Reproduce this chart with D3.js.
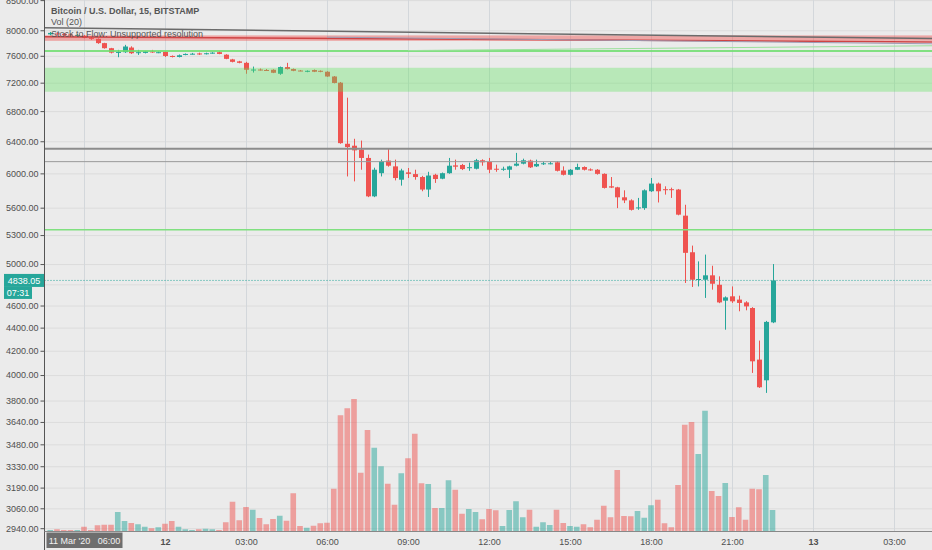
<!DOCTYPE html>
<html>
<head>
<meta charset="utf-8">
<script src="https://cdn.jsdelivr.net/npm/d3@7"></script>
<style>
    body { margin: 0; background: #ebebeb; }
    svg { display: block; font-family: "Liberation Sans", Arial, sans-serif; }
</style>
</head>
<body>
<div id="chart"></div>
<script>

// BTC/USD 15 min candles, 11 Mar 2020 19:45 -> 12 Mar 2020 22:30
const opens = [7934,7950,7942,7934,7918,7910,7879,7863,7796,7717,7651,7655,7727,7644,7644,7667,7651,7659,7597,7582,
    7613,7628,7636,7628,7639,7655,7617,7545,7515,7493,7383,7393,7386,7389,7330,7429,7400,7378,7360,7385,
    7374,7360,7290,7200,6368,6343,6293,6189,5729,6002,6156,6085,5924,6012,5991,5956,5808,5983,5936,6002,
    6097,6102,6065,6056,6160,6140,6056,6048,6044,6093,6118,6156,6085,6118,6120,6135,6035,5983,6044,6077,
    6048,6044,5994,5846,5834,5718,5683,5598,5595,5788,5878,5812,5812,5808,5511,5120,4845,4845,4888,4796,
    4645,4686,4655,4629,4577,4126,3958,4447];
const highs = [7973,7965,7958,7950,7940,7926,7895,7871,7801,7722,7691,7769,7746,7691,7675,7691,7667,7667,7605,7620,
    7636,7644,7648,7648,7655,7667,7624,7553,7523,7508,7437,7408,7400,7397,7437,7493,7408,7386,7380,7393,
    7380,7368,7297,7210,6986,6432,6409,6231,6069,6168,6302,6168,6056,6065,6044,5970,6019,5995,6010,6189,
    6168,6115,6131,6177,6172,6189,6106,6081,6093,6252,6180,6168,6168,6143,6140,6150,6085,6052,6118,6085,
    6060,6052,6000,5956,5840,5799,5695,5711,5810,5944,5890,5846,5830,5815,5633,5189,5027,5096,4983,4878,
    4685,4780,4692,4640,4585,4287,4460,5000];
const lows = [7918,7918,7910,7910,7910,7871,7848,7785,7710,7636,7578,7644,7628,7613,7636,7644,7640,7582,7575,7575,
    7608,7620,7613,7620,7632,7624,7548,7500,7486,7330,7348,7378,7375,7340,7315,7393,7368,7368,7353,7355,
    7353,7285,7190,6368,5963,5904,6044,5720,5720,5963,6081,5916,5854,5944,5924,5788,5722,5886,5930,5995,
    6044,6040,6031,6048,6093,6002,6019,6031,5944,6085,6110,6065,6077,6102,6110,6023,5975,5975,6040,6035,
    6031,5985,5820,5825,5595,5652,5568,5576,5576,5780,5659,5749,5711,5515,4813,4775,4780,4671,4749,4622,
    4382,4624,4547,4556,4017,3898,3859,4440];
const closes = [7958,7934,7926,7926,7926,7879,7863,7796,7717,7648,7659,7743,7639,7655,7667,7651,7655,7597,7582,7608,
    7628,7632,7620,7639,7648,7628,7553,7508,7493,7389,7393,7389,7383,7345,7429,7400,7374,7375,7374,7360,
    7360,7290,7196,6376,6326,6284,6189,5729,6044,6147,6093,5944,6035,5994,5956,5808,5974,5932,6002,6093,
    6081,6052,6075,6160,6135,6044,6048,6056,6085,6118,6160,6073,6115,6123,6123,6031,5983,6044,6077,6044,
    6040,5994,5827,5831,5718,5683,5576,5603,5799,5878,5788,5805,5805,5522,5114,4845,4852,4888,4806,4629,
    4676,4639,4624,4592,4112,3903,4451,4838.05];
const volumes = [20,35,20,20,20,85,20,115,125,125,380,200,160,135,85,55,75,145,200,85,
    35,20,35,45,35,20,175,585,215,480,425,260,135,240,305,205,755,100,65,105,
    155,165,845,2315,2455,2640,1165,2020,1665,1295,945,525,1155,1455,1945,955,940,460,460,1015,
    825,345,440,380,235,440,415,100,420,595,275,425,85,175,120,425,160,100,85,135,
    75,225,505,275,1220,300,295,400,265,515,625,155,75,920,2125,2180,1540,2405,800,700,
    960,280,475,225,845,835,1120,420];

const priceTicks = [8500,8000,7600,7200,6800,6400,6000,5600,5300,5000,4800,4600,4400,4200,4000,3800,3640,3480,3330,3190,3060,2940];
const timeTicks = ["2020-03-11T21:00","2020-03-12T00:00","2020-03-12T03:00","2020-03-12T06:00","2020-03-12T09:00",
    "2020-03-12T12:00","2020-03-12T15:00","2020-03-12T18:00","2020-03-12T21:00","2020-03-13T00:00","2020-03-13T03:00"];

// drawn levels and zones (prices)
const hLevels = [
    {price: 6305, color: "#8c8c8c", width: 2},
    {price: 6143, color: "#9a9a9a", width: 1},
    {price: 5358, color: "#7fe07f", width: 1.5},
    {price: 7675, color: "rgba(110,222,110,0.85)", width: 2}
];
const zones = [
    {top: 7419, bottom: 7070, color: "rgba(90,225,90,0.35)"},
    {top: 7918, bottom: 7832, color: "rgba(239,83,80,0.45)"}
];
const trendLines = [
    {t1: "2020-03-11T19:30", p1: 8040, t2: "2020-03-13T04:30", p2: 7868, color: "#6b6b6b", width: 1.5},
    {t1: "2020-03-11T19:30", p1: 7895, t2: "2020-03-13T04:30", p2: 7815, color: "#cf4344", width: 1.5},
    {t1: "2020-03-12T06:00", p1: 7890, t2: "2020-03-13T04:30", p2: 7785, color: "#9c9cb4", width: 1},
    {t1: "2020-03-12T09:00", p1: 7680, t2: "2020-03-13T04:30", p2: 7755, color: "#9be09b", width: 1}
];
const lastPrice = 4838.05;
const countdown = "07:31";
const crossLabel = "11 Mar '20   06:00";

const parseT = d3.isoParse;
const times = d3.timeMinute.every(15).range(new Date(2020, 2, 11, 19, 45), new Date(2020, 2, 12, 22, 45));

let candles = times.map((t, i) => ({
    t: t, o: opens[i], h: highs[i], l: lows[i], c: closes[i], v: volumes[i],
    up: closes[i] >= opens[i]
}));

let W = 932, H = 550;
let left = 44.5, bottom = 531.5;

let svg = d3.select("#chart").append("svg")
    .attr("width", W)
    .attr("height", H);

svg.append("rect").attr("width", W).attr("height", H).attr("fill", "#ebebeb");

svg.append("clipPath").attr("id", "plot")
    .append("rect").attr("x", left).attr("y", 0).attr("width", W - left).attr("height", bottom);

let x = d3.scaleTime()
    .domain([new Date(2020, 2, 11, 21, 0), new Date(2020, 2, 13, 3, 0)])
    .range([84, 894]);

let y = d3.scaleLog()
    .domain([2920.5, 8502])
    .range([bottom, 0]);

let yVol = d3.scaleLinear()
    .domain([0, 2640])
    .range([bottom - 0.5, 399]);

// grid
svg.append("g")
    .attr("transform", `translate(${left},0)`)
    .call(d3.axisLeft(y).tickValues(priceTicks).tickSize(-(W - left)).tickFormat(""))
    .call(g => g.select(".domain").remove())
    .call(g => g.selectAll("line").attr("stroke", "#dcdcdc"));

svg.append("g")
    .attr("transform", `translate(0,${bottom})`)
    .call(d3.axisBottom(x).tickValues(timeTicks.map(parseT)).tickSize(-bottom).tickFormat(""))
    .call(g => g.select(".domain").remove())
    .call(g => g.selectAll("line").attr("stroke", "#d3d7db"));

let plot = svg.append("g").attr("clip-path", "url(#plot)");

// volume
let barW = 5.6;
plot.selectAll(".vol")
    .data(candles)
    .enter()
    .append("rect")
    .attr("class", "vol")
    .attr("x", d => x(d.t) - barW / 2)
    .attr("y", d => yVol(d.v))
    .attr("width", barW)
    .attr("height", d => yVol(0) - yVol(d.v))
    .attr("fill", d => d.up ? "rgba(38,166,154,0.5)" : "rgba(239,83,80,0.5)");

// candles
let cg = plot.selectAll(".candle")
    .data(candles)
    .enter()
    .append("g")
    .attr("class", "candle");

cg.append("line")
    .attr("x1", d => Math.round(x(d.t)) + 0.5)
    .attr("x2", d => Math.round(x(d.t)) + 0.5)
    .attr("y1", d => y(d.h))
    .attr("y2", d => y(d.l))
    .attr("stroke", d => d.up ? "#26a69a" : "#ef5350")
    .attr("stroke-width", 1);

cg.append("rect")
    .attr("x", d => Math.round(x(d.t)) - 2)
    .attr("y", d => y(Math.max(d.o, d.c)))
    .attr("width", 5)
    .attr("height", d => Math.max(1, Math.abs(y(d.o) - y(d.c))))
    .attr("fill", d => d.up ? "#26a69a" : "#ef5350");

// drawings on top
plot.selectAll(".zone")
    .data(zones)
    .enter()
    .append("rect")
    .attr("x", left)
    .attr("width", W - left)
    .attr("y", d => y(d.top))
    .attr("height", d => y(d.bottom) - y(d.top))
    .attr("fill", d => d.color);

plot.selectAll(".level")
    .data(hLevels)
    .enter()
    .append("line")
    .attr("x1", left).attr("x2", W)
    .attr("y1", d => y(d.price)).attr("y2", d => y(d.price))
    .attr("stroke", d => d.color)
    .attr("stroke-width", d => d.width);

plot.selectAll(".trend")
    .data(trendLines)
    .enter()
    .append("line")
    .attr("x1", d => x(parseT(d.t1))).attr("x2", d => x(parseT(d.t2)))
    .attr("y1", d => y(d.p1)).attr("y2", d => y(d.p2))
    .attr("stroke", d => d.color)
    .attr("stroke-width", d => d.width);

// last price line
plot.append("line")
    .attr("x1", left).attr("x2", W)
    .attr("y1", y(lastPrice)).attr("y2", y(lastPrice))
    .attr("stroke", "#26a69a")
    .attr("stroke-width", 1)
    .attr("stroke-dasharray", "1,2");

// axes (4800 label sits under the last price box)
let fmt = d3.format(".2f");
let yAxis = svg.append("g")
    .attr("transform", `translate(${left},0)`)
    .call(d3.axisLeft(y).tickValues(priceTicks).tickSize(4).tickPadding(2)
        .tickFormat(d => d === 4800 ? "" : fmt(d)));
yAxis.select(".domain").attr("stroke", "#555").attr("d", `M0,0V${H}`);
yAxis.selectAll(".tick line").attr("stroke", "#555");
yAxis.selectAll("text").attr("fill", "#4f4f4f").style("font-size", "9px");

let xAxis = svg.append("g")
    .attr("transform", `translate(0,${bottom})`)
    .call(d3.axisBottom(x).tickValues(timeTicks.map(parseT)).tickSize(0).tickPadding(7)
        .tickFormat(d => (d.getHours() === 0 ? d3.timeFormat("%-d")(d) : d3.timeFormat("%H:%M")(d))));
xAxis.select(".domain").attr("stroke", "#888").attr("d", `M${left},0H${W}`);
xAxis.selectAll("text")
    .attr("fill", "#4f4f4f")
    .style("font-size", "9px")
    .style("font-weight", d => d.getHours() === 0 ? "bold" : "normal");

// legend
let legend = svg.append("g").attr("class", "legend").style("font-size", "9px").attr("fill", "#555");
legend.append("text").attr("x", 51).attr("y", 14).style("font-weight", "bold").text("Bitcoin / U.S. Dollar, 15, BITSTAMP");
legend.append("text").attr("x", 51).attr("y", 25).text("Vol (20)");
legend.append("text").attr("x", 51).attr("y", 36.5).text("Stock to Flow: Unsupported resolution");

// last price label
let ly = y(lastPrice);
svg.append("rect").attr("x", 4).attr("y", ly - 6.5).attr("width", 40).attr("height", 13).attr("fill", "#26a69a");
svg.append("text").attr("x", 24).attr("y", ly + 3.3).attr("text-anchor", "middle")
    .attr("fill", "#fff").style("font-size", "9px").text(fmt(lastPrice));
svg.append("rect").attr("x", 4).attr("y", ly + 6.5).attr("width", 28).attr("height", 12).attr("fill", "#26a69a");
svg.append("text").attr("x", 18).attr("y", ly + 15.5).attr("text-anchor", "middle")
    .attr("fill", "#fff").style("font-size", "9px").text(countdown);

// crosshair time label
svg.append("rect").attr("x", 46.5).attr("y", bottom + 1).attr("width", 76).attr("height", 15.5).attr("fill", "#6e6e6e");
svg.append("text").attr("x", 84.5).attr("y", bottom + 12).attr("text-anchor", "middle")
    .attr("fill", "#f2f2f2").style("font-size", "9px").style("white-space", "pre")
    .text(crossLabel);

</script>
</body>
</html>
